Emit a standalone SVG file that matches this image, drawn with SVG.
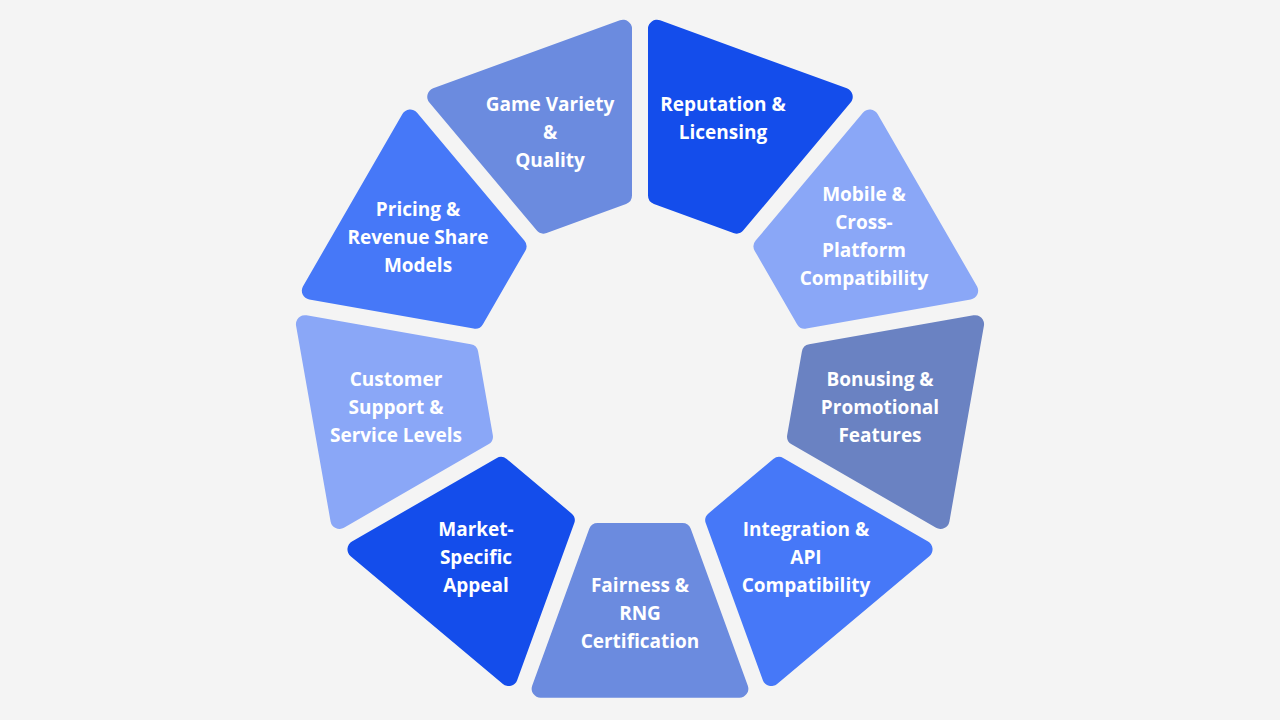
<svg xmlns="http://www.w3.org/2000/svg" xmlns:xlink="http://www.w3.org/1999/xlink" width="1280" height="720" viewBox="0 0 1280 720">
  <defs>
    <path id="seg" d="M 331.71 -99.37 L 331.71 99.37 A 9 9 0 0 1 319.63 107.83 L 162.85 50.75 A 9 9 0 0 1 156.93 42.30 L 156.93 -42.30 A 9 9 0 0 1 162.85 -50.75 L 319.63 -107.83 A 9 9 0 0 1 331.71 -99.37 Z"/>
  </defs>
  <style>
    .lbl { font-family: "Open Sans", "Liberation Sans", sans-serif; font-weight: 700; font-size: 19px; fill: #ffffff; text-anchor: middle; }
    .c1 { fill: #144DEB; }
    .c2 { fill: #4678F8; }
    .c3 { fill: #8AA7F7; }
    .c4 { fill: #6B8BDF; }
    .c5 { fill: #6A82C2; }
  </style>
  <rect width="1280" height="720" fill="#F4F4F4"/>
  <g id="connectors"/>
  <g id="game-variety">
    <use xlink:href="#seg" href="#seg" class="c4" transform="translate(640 366) rotate(-110)"/>
    <text class="lbl"><tspan x="550" y="111">Game Variety</tspan><tspan x="550" y="139">&amp;</tspan><tspan x="550" y="167">Quality</tspan></text>
  </g>
  <g id="reputation">
    <use xlink:href="#seg" href="#seg" class="c1" transform="translate(640 366) rotate(-70)"/>
    <text class="lbl"><tspan x="723" y="111">Reputation &amp;</tspan><tspan x="723" y="139">Licensing</tspan></text>
  </g>
  <g id="mobile">
    <use xlink:href="#seg" href="#seg" class="c3" transform="translate(640 366) rotate(-30)"/>
    <text class="lbl"><tspan x="864" y="201">Mobile &amp;</tspan><tspan x="864" y="229">Cross-</tspan><tspan x="864" y="257">Platform</tspan><tspan x="864" y="285">Compatibility</tspan></text>
  </g>
  <g id="bonusing">
    <use xlink:href="#seg" href="#seg" class="c5" transform="translate(640 366) rotate(10)"/>
    <text class="lbl"><tspan x="880" y="386">Bonusing &amp;</tspan><tspan x="880" y="414">Promotional</tspan><tspan x="880" y="442">Features</tspan></text>
  </g>
  <g id="integration">
    <use xlink:href="#seg" href="#seg" class="c2" transform="translate(640 366) rotate(50)"/>
    <text class="lbl"><tspan x="806" y="536">Integration &amp;</tspan><tspan x="806" y="564">API</tspan><tspan x="806" y="592">Compatibility</tspan></text>
  </g>
  <g id="fairness">
    <use xlink:href="#seg" href="#seg" class="c4" transform="translate(640 366) rotate(90)"/>
    <text class="lbl"><tspan x="640" y="592">Fairness &amp;</tspan><tspan x="640" y="620">RNG</tspan><tspan x="640" y="648">Certification</tspan></text>
  </g>
  <g id="market">
    <use xlink:href="#seg" href="#seg" class="c1" transform="translate(640 366) rotate(130)"/>
    <text class="lbl"><tspan x="476" y="536">Market-</tspan><tspan x="476" y="564">Specific</tspan><tspan x="476" y="592">Appeal</tspan></text>
  </g>
  <g id="customer-support">
    <use xlink:href="#seg" href="#seg" class="c3" transform="translate(640 366) rotate(170)"/>
    <text class="lbl"><tspan x="396" y="386">Customer</tspan><tspan x="396" y="414">Support &amp;</tspan><tspan x="396" y="442">Service Levels</tspan></text>
  </g>
  <g id="pricing">
    <use xlink:href="#seg" href="#seg" class="c2" transform="translate(640 366) rotate(210)"/>
    <text class="lbl"><tspan x="418" y="216">Pricing &amp;</tspan><tspan x="418" y="244">Revenue Share</tspan><tspan x="418" y="272">Models</tspan></text>
  </g>
</svg>
